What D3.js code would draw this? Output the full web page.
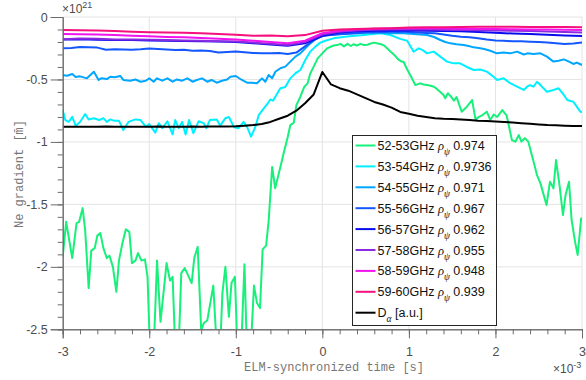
<!DOCTYPE html>
<html><head><meta charset="utf-8">
<script src="https://cdn.jsdelivr.net/npm/d3@7"></script>
<style>body{margin:0;background:#fff}svg{display:block}</style>
</head><body><svg id="c" width="586" height="380"></svg>
<script>
// ---------- data ----------
const xTicks = [-3, -2, -1, 0, 1, 2, 3];
const yTicks = [0, -0.5, -1, -1.5, -2, -2.5];
const bandLabels = ["52-53GHz", "53-54GHz", "54-55GHz", "55-56GHz", "56-57GHz", "57-58GHz", "58-59GHz", "59-60GHz"];
const rhoValues = ["0.974", "0.9736", "0.971", "0.967", "0.962", "0.955", "0.948", "0.939"];
const xExponent = "-3";
const yExponent = "21";

// 52-53 GHz  [time (ms), gradient (1e21)]
const s5253 = [[-3.00,-1.92],[-2.96,-1.64],[-2.89,-1.93],[-2.84,-1.65],[-2.81,-1.64],[-2.77,-1.53],[-2.74,-1.71],[-2.70,-2.17],[-2.67,-1.87],[-2.63,-1.85],[-2.60,-1.75],[-2.565,-1.73],[-2.53,-1.85],[-2.49,-1.93],[-2.46,-1.91],[-2.42,-2.00],[-2.38,-2.20],[-2.35,-1.95],[-2.31,-1.81],[-2.27,-1.70],[-2.23,-1.72],[-2.20,-1.97],[-2.16,-1.95],[-2.13,-1.89],[-2.09,-1.95],[-2.05,-1.94],[-2.02,-2.08],[-1.99,-2.70],[-1.95,-2.70],[-1.91,-1.95],[-1.87,-2.44],[-1.80,-1.97],[-1.76,-2.11],[-1.73,-2.08],[-1.70,-2.65],[-1.66,-2.65],[-1.63,-2.05],[-1.59,-2.01],[-1.51,-2.13],[-1.48,-1.93],[-1.44,-1.84],[-1.40,-2.51],[-1.37,-2.45],[-1.33,-2.43],[-1.26,-2.15],[-1.22,-2.65],[-1.18,-2.65],[-1.155,-2.21],[-1.12,-2.00],[-1.08,-2.40],[-1.05,-2.13],[-1.01,-2.08],[-0.98,-2.70],[-0.94,-2.70],[-0.90,-1.98],[-0.87,-2.70],[-0.83,-2.70],[-0.79,-2.15],[-0.755,-2.29],[-0.72,-2.33],[-0.69,-1.86],[-0.65,-1.83],[-0.62,-1.63],[-0.58,-1.20],[-0.545,-1.37],[-0.485,-1.20],[-0.447,-1.09],[-0.40,-0.96],[-0.37,-0.865],[-0.33,-0.846],[-0.30,-0.705],[-0.254,-0.638],[-0.208,-0.558],[-0.17,-0.531],[-0.139,-0.451],[-0.10,-0.397],[-0.054,-0.331],[0.00,-0.291],[0.054,-0.251],[0.13,-0.228],[0.17,-0.225],[0.21,-0.215],[0.25,-0.235],[0.29,-0.215],[0.33,-0.232],[0.36,-0.218],[0.40,-0.228],[0.44,-0.215],[0.48,-0.225],[0.52,-0.222],[0.56,-0.212],[0.60,-0.205],[0.64,-0.212],[0.68,-0.218],[0.72,-0.232],[0.76,-0.258],[0.80,-0.285],[0.84,-0.31],[0.87,-0.335],[0.91,-0.355],[0.94,-0.36],[0.98,-0.42],[1.02,-0.47],[1.075,-0.545],[1.13,-0.531],[1.17,-0.54],[1.21,-0.545],[1.25,-0.55],[1.29,-0.558],[1.32,-0.575],[1.36,-0.598],[1.40,-0.625],[1.42,-0.651],[1.45,-0.61],[1.48,-0.632],[1.52,-0.67],[1.55,-0.64],[1.58,-0.70],[1.61,-0.758],[1.67,-0.718],[1.73,-0.665],[1.77,-0.819],[1.81,-0.80],[1.85,-0.785],[1.90,-0.758],[1.94,-0.824],[1.98,-0.78],[2.02,-0.80],[2.08,-0.745],[2.13,-0.79],[2.19,-0.985],[2.23,-0.998],[2.27,-0.945],[2.30,-0.998],[2.34,-0.97],[2.38,-0.998],[2.43,-1.13],[2.48,-1.265],[2.52,-1.332],[2.59,-1.505],[2.63,-1.318],[2.67,-1.372],[2.70,-1.145],[2.74,-1.345],[2.78,-1.585],[2.81,-1.425],[2.85,-1.318],[2.88,-1.625],[2.92,-1.80],[2.95,-1.905],[2.99,-1.612],[3.00,-1.61]];

// 53-54 GHz
const s5354 = [[-3.00,-0.745],[-2.97,-0.825],[-2.93,-0.84],[-2.89,-0.80],[-2.85,-0.87],[-2.80,-0.84],[-2.74,-0.777],[-2.70,-0.82],[-2.64,-0.81],[-2.58,-0.825],[-2.53,-0.81],[-2.49,-0.84],[-2.45,-0.82],[-2.41,-0.83],[-2.35,-0.83],[-2.30,-0.905],[-2.24,-0.84],[-2.16,-0.82],[-2.10,-0.825],[-2.04,-0.878],[-2.00,-0.857],[-1.93,-0.926],[-1.89,-0.85],[-1.85,-0.89],[-1.79,-0.835],[-1.73,-0.94],[-1.70,-0.825],[-1.66,-0.89],[-1.62,-0.84],[-1.58,-0.94],[-1.54,-0.825],[-1.49,-0.93],[-1.43,-0.835],[-1.37,-0.85],[-1.34,-0.89],[-1.30,-0.825],[-1.22,-0.82],[-1.18,-0.87],[-1.12,-0.81],[-1.08,-0.80],[-1.02,-0.883],[-0.967,-0.89],[-0.91,-0.84],[-0.87,-0.88],[-0.824,-0.958],[-0.774,-0.88],[-0.735,-0.785],[-0.677,-0.731],[-0.64,-0.70],[-0.601,-0.66],[-0.57,-0.67],[-0.543,-0.638],[-0.485,-0.571],[-0.428,-0.56],[-0.37,-0.491],[-0.312,-0.451],[-0.254,-0.424],[-0.197,-0.344],[-0.139,-0.277],[-0.081,-0.237],[-0.023,-0.205],[0.035,-0.19],[0.13,-0.171],[0.285,-0.157],[0.478,-0.144],[0.67,-0.131],[0.786,-0.144],[0.90,-0.175],[0.98,-0.19],[1.055,-0.278],[1.113,-0.251],[1.16,-0.265],[1.21,-0.291],[1.286,-0.277],[1.363,-0.317],[1.44,-0.357],[1.517,-0.371],[1.59,-0.371],[1.67,-0.40],[1.748,-0.424],[1.825,-0.42],[1.90,-0.437],[1.979,-0.478],[2.02,-0.504],[2.095,-0.491],[2.17,-0.53],[2.25,-0.558],[2.327,-0.584],[2.366,-0.558],[2.40,-0.545],[2.44,-0.558],[2.48,-0.518],[2.52,-0.545],[2.595,-0.598],[2.67,-0.584],[2.73,-0.571],[2.79,-0.624],[2.83,-0.664],[2.90,-0.678],[2.98,-0.758],[3.00,-0.76]];

// 54-55 GHz
const s5455 = [[-3.00,-0.464],[-2.95,-0.47],[-2.89,-0.456],[-2.85,-0.48],[-2.80,-0.475],[-2.72,-0.491],[-2.64,-0.438],[-2.585,-0.504],[-2.55,-0.49],[-2.49,-0.497],[-2.45,-0.478],[-2.40,-0.483],[-2.335,-0.472],[-2.30,-0.504],[-2.22,-0.51],[-2.16,-0.50],[-2.10,-0.518],[-2.04,-0.51],[-2.00,-0.491],[-1.95,-0.518],[-1.91,-0.491],[-1.85,-0.51],[-1.79,-0.491],[-1.73,-0.518],[-1.68,-0.50],[-1.62,-0.51],[-1.56,-0.491],[-1.50,-0.518],[-1.45,-0.504],[-1.39,-0.491],[-1.33,-0.518],[-1.28,-0.504],[-1.22,-0.526],[-1.16,-0.51],[-1.10,-0.50],[-1.063,-0.478],[-1.00,-0.472],[-0.93,-0.504],[-0.87,-0.526],[-0.81,-0.526],[-0.755,-0.531],[-0.697,-0.491],[-0.659,-0.518],[-0.62,-0.464],[-0.58,-0.49],[-0.543,-0.438],[-0.485,-0.41],[-0.428,-0.397],[-0.37,-0.357],[-0.312,-0.317],[-0.254,-0.291],[-0.197,-0.251],[-0.139,-0.211],[-0.081,-0.179],[-0.023,-0.157],[0.054,-0.144],[0.17,-0.138],[0.324,-0.131],[0.478,-0.126],[0.632,-0.126],[0.786,-0.131],[0.90,-0.128],[1.017,-0.135],[1.13,-0.14],[1.21,-0.144],[1.29,-0.16],[1.363,-0.184],[1.42,-0.20],[1.48,-0.211],[1.55,-0.218],[1.633,-0.224],[1.69,-0.232],[1.748,-0.243],[1.825,-0.25],[1.88,-0.258],[1.94,-0.27],[2.017,-0.291],[2.095,-0.285],[2.17,-0.291],[2.25,-0.277],[2.327,-0.30],[2.37,-0.291],[2.44,-0.296],[2.52,-0.291],[2.595,-0.317],[2.67,-0.357],[2.73,-0.35],[2.79,-0.339],[2.85,-0.357],[2.90,-0.376],[2.94,-0.365],[3.00,-0.384]];

// 55-56 GHz, sampled every 0.1 ms from -3 to 3
const v5556 = [-0.251,-0.248,-0.240,-0.242,-0.245,-0.262,-0.258,-0.260,-0.262,-0.258,-0.252,-0.256,-0.260,-0.264,-0.262,-0.270,-0.268,-0.272,-0.285,-0.280,-0.277,-0.282,-0.288,-0.291,-0.290,-0.288,-0.296,-0.285,-0.235,-0.185,-0.152,-0.145,-0.138,-0.135,-0.130,-0.125,-0.122,-0.120,-0.118,-0.117,-0.120,-0.124,-0.128,-0.131,-0.140,-0.150,-0.158,-0.163,-0.170,-0.180,-0.188,-0.190,-0.195,-0.195,-0.198,-0.200,-0.205,-0.210,-0.216,-0.212,-0.205];
// 56-59 GHz channels, sampled every 0.2 ms from -3 to 3
const v5657 = [-0.180,-0.178,-0.182,-0.185,-0.185,-0.188,-0.190,-0.192,-0.195,-0.197,-0.200,-0.210,-0.220,-0.230,-0.210,-0.150,-0.125,-0.115,-0.110,-0.108,-0.108,-0.110,-0.112,-0.115,-0.120,-0.127,-0.132,-0.137,-0.142,-0.148,-0.152];
const v5758 = [-0.178,-0.172,-0.175,-0.180,-0.180,-0.183,-0.185,-0.188,-0.190,-0.195,-0.197,-0.205,-0.215,-0.225,-0.200,-0.140,-0.118,-0.108,-0.102,-0.100,-0.100,-0.100,-0.102,-0.104,-0.106,-0.108,-0.110,-0.113,-0.117,-0.121,-0.125];
const v5859 = [-0.136,-0.138,-0.140,-0.145,-0.150,-0.155,-0.160,-0.163,-0.168,-0.175,-0.180,-0.190,-0.200,-0.210,-0.190,-0.130,-0.110,-0.100,-0.095,-0.092,-0.090,-0.090,-0.092,-0.094,-0.096,-0.097,-0.099,-0.100,-0.101,-0.103,-0.104];
const v5960 = [-0.104,-0.106,-0.108,-0.112,-0.118,-0.122,-0.125,-0.127,-0.130,-0.137,-0.142,-0.150,-0.148,-0.155,-0.145,-0.110,-0.100,-0.096,-0.092,-0.090,-0.085,-0.083,-0.082,-0.080,-0.079,-0.078,-0.079,-0.080,-0.080,-0.081,-0.082];
// D-alpha, sampled every 0.1 ms
const vDalpha = [-0.878,-0.878,-0.879,-0.878,-0.878,-0.877,-0.878,-0.878,-0.879,-0.878,-0.878,-0.877,-0.878,-0.878,-0.878,-0.877,-0.878,-0.877,-0.877,-0.876,-0.874,-0.870,-0.865,-0.857,-0.840,-0.815,-0.790,-0.750,-0.690,-0.620,-0.440,-0.540,-0.570,-0.590,-0.620,-0.650,-0.680,-0.700,-0.725,-0.760,-0.775,-0.790,-0.800,-0.810,-0.815,-0.817,-0.820,-0.825,-0.830,-0.833,-0.837,-0.840,-0.845,-0.850,-0.855,-0.860,-0.865,-0.867,-0.870,-0.872,-0.873];

const colors = ["#17f07a", "#00f0ff", "#00a6ff", "#1457ff", "#0a0aee", "#8a2be2", "#f014ec", "#f5107e"];
const dalphaColor = "#000000";

// ---------- build ----------
const t01 = d3.range(61).map(i => +(-3 + 0.1 * i).toFixed(2));
const t02 = d3.range(31).map(i => +(-3 + 0.2 * i).toFixed(2));
const zip = (ts, vs) => ts.map((t, i) => [t, vs[i]]);
const series = [
  s5253, s5354, s5455,
  zip(t01, v5556), zip(t02, v5657), zip(t02, v5758), zip(t02, v5859), zip(t02, v5960)
];
const dalpha = zip(t01, vDalpha);

const svg = d3.select("#c");
const x = d3.scaleLinear().domain([-3, 3]).range([62.7, 582]);
const y = d3.scaleLinear().domain([-2.5, 0]).range([329.3, 17]);
const axisColor = "#6b6b6b";
const textColor = "#4d4d4d";
const sans = "Liberation Sans, Arial, sans-serif";

// grid
const grid = svg.append("g");
grid.selectAll("line.gx").data(xTicks.slice(1)).enter().append("line")
  .attr("x1", d => x(d)).attr("x2", d => x(d)).attr("y1", y(-2.5)).attr("y2", y(0))
  .attr("stroke", "#e4e4e4").attr("stroke-width", 1);
grid.selectAll("line.gy").data(yTicks.slice(0, -1)).enter().append("line")
  .attr("y1", d => y(d)).attr("y2", d => y(d)).attr("x1", x(-3)).attr("x2", x(3))
  .attr("stroke", "#e4e4e4").attr("stroke-width", 1);

// lines
svg.append("clipPath").attr("id", "pc").append("rect")
  .attr("x", x(-3)).attr("y", y(0)).attr("width", x(3) - x(-3)).attr("height", y(-2.5) - y(0));
const line = d3.line().x(d => x(d[0])).y(d => y(d[1]));
const lg = svg.append("g").attr("clip-path", "url(#pc)");
series.forEach((s, i) => {
  lg.append("path").attr("d", line(s)).attr("fill", "none")
    .attr("stroke", colors[i]).attr("stroke-width", 2).attr("stroke-linejoin", "round");
});
lg.append("path").attr("d", line(dalpha)).attr("fill", "none")
  .attr("stroke", dalphaColor).attr("stroke-width", 2).attr("stroke-linejoin", "round");

// axes
const xAxis = svg.append("g").attr("transform", `translate(0,${y(-2.5)})`)
  .call(d3.axisBottom(x).tickValues(d3.range(-3, 3.001, 0.2)).tickSize(5).tickFormat(""));
const xMaj = svg.append("g").attr("transform", `translate(0,${y(-2.5)})`)
  .call(d3.axisBottom(x).tickValues(xTicks).tickSize(9).tickPadding(9).tickFormat(d => d < 0 ? "-" + Math.abs(d) : String(d)));
[xAxis, xMaj].forEach(g => { g.select(".domain").attr("stroke", axisColor); g.selectAll(".tick line").attr("stroke", axisColor); });
xMaj.selectAll("text").attr("fill", textColor).attr("font-family", sans).attr("font-size", 12.5);

const yAxis = svg.append("g").attr("transform", `translate(${x(-3)},0)`)
  .call(d3.axisLeft(y).tickValues(d3.range(-2.5, 0.001, 0.1)).tickSize(5).tickFormat(""));
const yMaj = svg.append("g").attr("transform", `translate(${x(-3)},0)`)
  .call(d3.axisLeft(y).tickValues(yTicks).tickSize(12).tickPadding(3).tickFormat(d => d === 0 ? "0" : "-" + Math.abs(d)));
[yAxis, yMaj].forEach(g => { g.select(".domain").attr("stroke", axisColor); g.selectAll(".tick line").attr("stroke", axisColor); });
yMaj.selectAll("text").attr("fill", textColor).attr("font-family", sans).attr("font-size", 12.5);

// exponents
const ex1 = svg.append("text").attr("x", 62).attr("y", 13).attr("fill", textColor)
  .attr("font-family", sans).attr("font-size", 12);
ex1.append("tspan").text("\u00d710");
ex1.append("tspan").attr("dy", -5).attr("font-size", 9).text(yExponent);
const ex2 = svg.append("text").attr("x", 553).attr("y", 373).attr("fill", textColor)
  .attr("font-family", sans).attr("font-size", 12);
ex2.append("tspan").text("\u00d710");
ex2.append("tspan").attr("dy", -5).attr("font-size", 9).text(xExponent);

// axis labels
svg.append("text").attr("x", 334).attr("y", 371).attr("text-anchor", "middle")
  .attr("fill", "#777").attr("font-family", "Liberation Mono, DejaVu Sans Mono, monospace").attr("font-size", 12)
  .text("ELM-synchronized time [s]");
svg.append("text").attr("transform", "translate(23,174) rotate(-90)").attr("text-anchor", "middle")
  .attr("fill", "#777").attr("font-family", "Liberation Mono, DejaVu Sans Mono, monospace").attr("font-size", 12)
  .text("Ne gradient [m\u0304]");

// legend
const lgX = 352.5, lgY = 135.5, lgW = 144, lgH = 190;
const leg = svg.append("g");
leg.append("rect").attr("x", lgX).attr("y", lgY).attr("width", lgW).attr("height", lgH)
  .attr("fill", "#fff").attr("stroke", "#262626").attr("stroke-width", 1);
const rowH = 20.9;
const entries = bandLabels.map((b, i) => ({ band: b, rho: rhoValues[i], color: colors[i] }));
entries.forEach((e, i) => {
  const cy = lgY + 10 + i * rowH;
  leg.append("line").attr("x1", lgX + 3).attr("x2", lgX + 23).attr("y1", cy).attr("y2", cy)
    .attr("stroke", e.color).attr("stroke-width", 2);
  const t = leg.append("text").attr("x", lgX + 25).attr("y", cy + 4.5).attr("fill", "#111")
    .attr("font-family", sans).attr("font-size", 12.5);
  t.append("tspan").text(e.band + " ");
  t.append("tspan").attr("font-family", "Liberation Serif, DejaVu Serif, serif").attr("font-style", "italic").text("\u03c1");
  t.append("tspan").attr("font-family", "Liberation Serif, DejaVu Serif, serif").attr("font-style", "italic").attr("font-size", 9.5).attr("dy", 5).text("\u03c8");
  t.append("tspan").attr("dy", -5).text(" " + e.rho);
});
{
  const cy = lgY + 10 + 8 * rowH;
  leg.append("line").attr("x1", lgX + 3).attr("x2", lgX + 23).attr("y1", cy).attr("y2", cy)
    .attr("stroke", dalphaColor).attr("stroke-width", 2);
  const t = leg.append("text").attr("x", lgX + 25).attr("y", cy + 4.5).attr("fill", "#111")
    .attr("font-family", sans).attr("font-size", 12.5);
  t.append("tspan").text("D");
  t.append("tspan").attr("font-family", "Liberation Serif, DejaVu Serif, serif").attr("font-style", "italic").attr("font-size", 9.5).attr("dy", 5).text("\u03b1");
  t.append("tspan").attr("dy", -5).text(" [a.u.]");
}
</script>
</body></html>
